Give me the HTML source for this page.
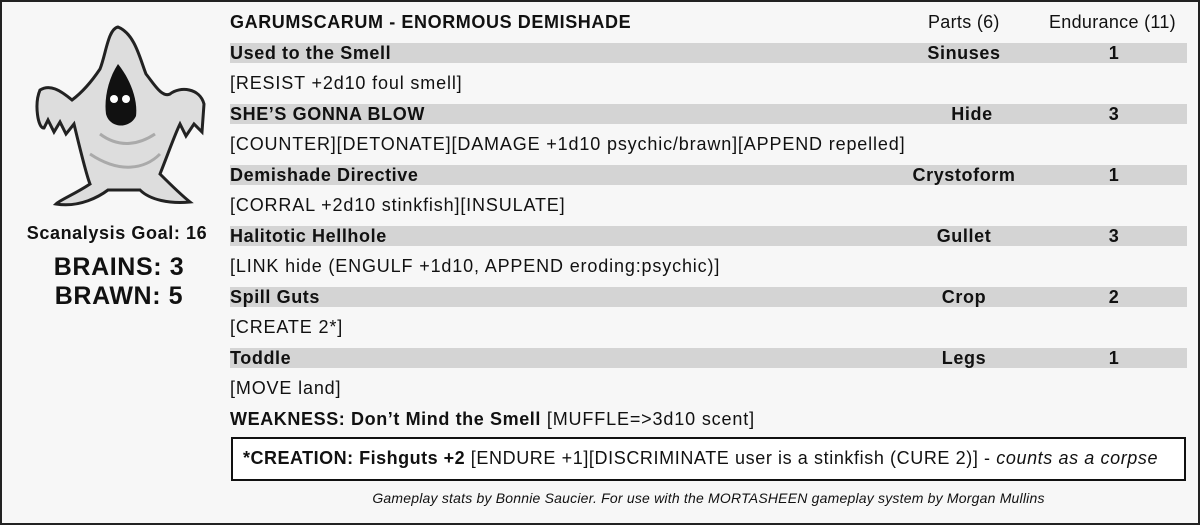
<!DOCTYPE html>
<html><head><meta charset="utf-8"><style>
body{margin:0;width:1200px;height:525px;background:#fff;font-family:"Liberation Sans",sans-serif;color:#111;}
.f{position:absolute;left:0;top:0;width:1196px;height:521px;border:2px solid #222;background:#f7f7f7;overflow:hidden}
.a{position:absolute;white-space:nowrap;font-size:18px;line-height:20px;letter-spacing:0.85px}
.b{font-weight:bold;letter-spacing:0.6px}
.p{left:862px;width:200px;text-align:center}
.n{left:1062px;width:100px;text-align:center}
.band{position:absolute;left:228px;width:957px;height:20px;background:#d4d4d4}
</style></head><body><div class="f">
<svg style="position:absolute;left:28px;top:22px" width="180" height="186" viewBox="0 0 180 186">
<path d="M88 3 C78 5 76 30 70 45 C60 60 50 70 42 76 C30 66 20 60 10 66 C4 80 8 105 14 104 L18 96 L24 108 L30 98 L36 110 L44 100 C50 125 56 150 60 160 C45 170 30 176 26 180 C50 184 70 172 78 166 L110 166 C120 176 140 180 160 178 C150 170 140 160 130 150 C138 130 145 110 150 100 L156 112 L164 100 L172 108 L174 80 C170 64 150 62 140 70 C132 74 124 60 116 50 C110 35 105 10 88 3 Z" fill="#ddd" stroke="#222" stroke-width="3"/>
<path d="M88 40 C78 55 74 75 76 90 C80 105 100 105 106 92 C108 75 100 55 88 40 Z" fill="#111"/>
<circle cx="84" cy="75" r="4" fill="#fff"/><circle cx="96" cy="75" r="4" fill="#fff"/>
<path d="M70 110 C90 125 110 120 125 110 M60 130 C90 150 115 145 130 130" stroke="#aaa" stroke-width="3" fill="none"/>
</svg>
<div class="a b" style="left:0;width:230px;text-align:center;top:221px;font-size:18px">Scanalysis Goal: 16</div>
<div class="a b" style="left:0;width:234px;text-align:center;top:251px;font-size:25px;line-height:29px">BRAINS: 3<br>BRAWN: 5</div>

<div class="a b" style="left:228px;top:10px">GARUMSCARUM - ENORMOUS DEMISHADE</div>
<div class="a" style="left:926px;top:10px;letter-spacing:0.3px">Parts (6)</div>
<div class="a" style="left:1047px;top:10px;letter-spacing:0.3px">Endurance (11)</div>

<div class="band" style="top:41px"></div>
<div class="band" style="top:102px"></div>
<div class="band" style="top:163px"></div>
<div class="band" style="top:224px"></div>
<div class="band" style="top:285px"></div>
<div class="band" style="top:346px"></div>

<div class="a b" style="left:228px;top:41px">Used to the Smell</div>
<div class="a b p" style="top:41px">Sinuses</div>
<div class="a b n" style="top:41px">1</div>
<div class="a" style="left:228px;top:71px">[RESIST +2d10 foul smell]</div>

<div class="a b" style="left:228px;top:102px">SHE’S GONNA BLOW</div>
<div class="a b p" style="top:102px;left:870px">Hide</div>
<div class="a b n" style="top:102px">3</div>
<div class="a" style="left:228px;top:132px">[COUNTER][DETONATE][DAMAGE +1d10 psychic/brawn][APPEND repelled]</div>

<div class="a b" style="left:228px;top:163px">Demishade Directive</div>
<div class="a b p" style="top:163px">Crystoform</div>
<div class="a b n" style="top:163px">1</div>
<div class="a" style="left:228px;top:193px">[CORRAL +2d10 stinkfish][INSULATE]</div>

<div class="a b" style="left:228px;top:224px">Halitotic Hellhole</div>
<div class="a b p" style="top:224px">Gullet</div>
<div class="a b n" style="top:224px">3</div>
<div class="a" style="left:228px;top:254px">[LINK hide (ENGULF +1d10, APPEND eroding:psychic)]</div>

<div class="a b" style="left:228px;top:285px">Spill Guts</div>
<div class="a b p" style="top:285px">Crop</div>
<div class="a b n" style="top:285px">2</div>
<div class="a" style="left:228px;top:315px">[CREATE 2*]</div>

<div class="a b" style="left:228px;top:346px">Toddle</div>
<div class="a b p" style="top:346px">Legs</div>
<div class="a b n" style="top:346px">1</div>
<div class="a" style="left:228px;top:376px">[MOVE land]</div>

<div class="a" style="left:228px;top:407px"><b style="letter-spacing:0.6px">WEAKNESS: Don’t Mind the Smell</b> [MUFFLE=&gt;3d10 scent]</div>

<div style="position:absolute;left:229px;top:435px;width:951px;height:40px;border:2px solid #111;background:#fff"></div>
<div class="a" style="left:241px;top:446px;letter-spacing:0.6px"><b style="letter-spacing:0.5px">*CREATION: Fishguts +2</b> [ENDURE +1][DISCRIMINATE user is a stinkfish (CURE 2)] - <i>counts as a corpse</i></div>

<div class="a" style="left:228px;width:957px;text-align:center;top:486px;font-size:14px;letter-spacing:0.2px;font-style:italic">Gameplay stats by Bonnie Saucier. For use with the MORTASHEEN gameplay system by Morgan Mullins</div>
</div></body></html>
